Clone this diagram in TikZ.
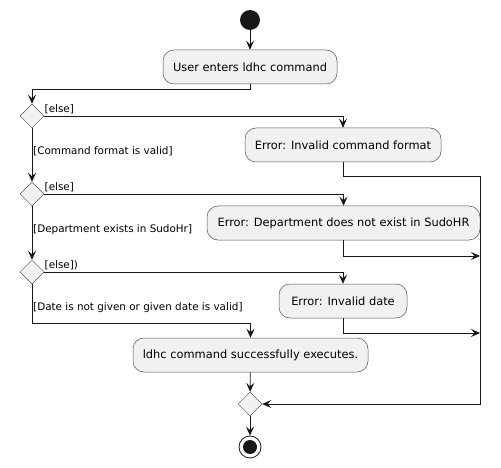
\documentclass[tikz,border=0pt]{standalone}
\usepackage{fontspec}
\setmainfont{DejaVu Sans}
\usetikzlibrary{shapes.geometric,arrows.meta}
\definecolor{actfill}{HTML}{F1F1F1}
\definecolor{ink}{HTML}{181818}
\begin{document}
\begin{tikzpicture}[x=1pt,y=-1pt,
  act/.style={draw=ink!75, fill=actfill, rounded corners=11pt, line width=0.5pt,
    minimum height=34pt, inner sep=0pt, text=black, font=\fontsize{11.4}{13}\selectfont},
  dia/.style={draw=ink!75, fill=actfill, diamond, line width=0.5pt, minimum width=24pt,
    minimum height=24pt, inner sep=0pt},
  guard/.style={inner sep=0pt, anchor=base west, text=black, font=\fontsize{10.4}{12}\selectfont},
  arr/.style={draw=ink, line width=0.8pt, -{Stealth[length=9pt,width=8pt,inset=3.5pt]}},
  ln/.style={draw=ink, line width=0.8pt}]
\useasboundingbox (0,0) rectangle (501,468);
\node[circle, fill=ink, minimum size=20pt, inner sep=0pt] (start) at (250,20) {};
\node[act, minimum width=174pt] (b1) at (250,67) {User enters ldhc command};
\node[dia] (d1) at (32,116) {};
\node[act, minimum width=196pt] (e1) at (343,145) {Error: Invalid command format};
\node[dia] (d2) at (32,194) {};
\node[act, minimum width=273pt] (e2) at (343.5,223) {Error: Department does not exist in SudoHR};
\node[dia] (d3) at (32,272) {};
\node[act, minimum width=128pt] (e3) at (343,301) {Error: Invalid date};
\node[act, minimum width=235pt] (ok) at (250.5,355) {ldhc command successfully executes.};
\node[dia] (m) at (250,404) {};
\node[circle, draw=ink, line width=0.8pt, fill=white, minimum size=22pt, inner sep=0pt] (end) at (250,447) {};
\node[circle, fill=ink, minimum size=14pt, inner sep=0pt] (endin) at (250,447) {};
\coordinate (r1) at (480,176);
\coordinate (r2) at (480,256);
\coordinate (r3) at (480,333);
\coordinate (j) at (32,323);
\coordinate (k) at (250,89);
% guards
\node[guard] (g1) at (44.5,112.5) {[else]};
\node[guard] (g2) at (33,154.5) {[Command format is valid]};
\node[guard] (g3) at (44.5,190.5) {[else]};
\node[guard] (g4) at (33,232.5) {[Department exists in SudoHr]};
\node[guard] (g5) at (44.5,268.5) {[else])};
\node[guard] (g6) at (33,310.5) {[Date is not given or given date is valid]};
% connectors
\draw[arr] (start) -- (b1);
\draw[arr] (b1.south) -- (k) -| (d1.north);
\draw[arr] (d1.east) -| (e1.north);
\draw[arr] (d1.south) -- (d2.north);
\draw[arr] (d2.east) -| (e2.north);
\draw[arr] (d2.south) -- (d3.north);
\draw[arr] (d3.east) -| (e3.north);
\draw[arr] (d3.south) -- (j) -| (ok.north);
\draw[arr] (e1.south) |- (r1) |- (m.east);
\draw[arr] (e2.south) |- (r2);
\draw[arr] (e3.south) |- (r3);
\draw[arr] (ok) -- (m);
\draw[arr] (m) -- (end);
\end{tikzpicture}
\end{document}
